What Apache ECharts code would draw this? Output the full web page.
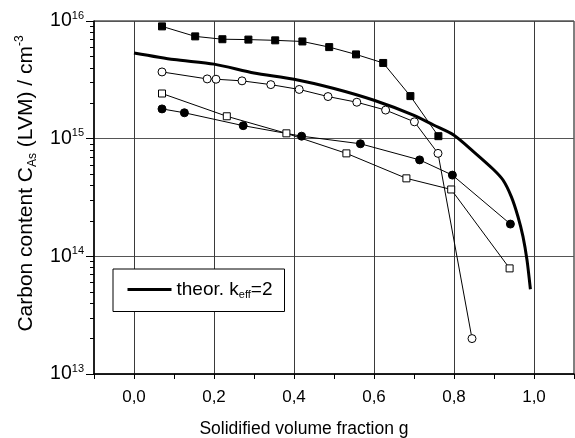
<!DOCTYPE html>
<html>
<head>
<meta charset="utf-8">
<script src="https://cdn.jsdelivr.net/npm/echarts@6/dist/echarts.min.js"></script>
<style>
html,body{margin:0;padding:0;background:#fff;}
#chart{width:575px;height:438px;}
</style>
</head>
<body>
<div id="chart"></div>
<script>
// ---- data ----
var filledSquaresX = [0.07, 0.153, 0.221, 0.286, 0.353, 0.421, 0.488, 0.555, 0.623, 0.691, 0.761];
var filledSquaresY = [9.0e15, 7.4e15, 7.0e15, 6.95e15, 6.85e15, 6.7e15, 6.0e15, 5.2e15, 4.4e15, 2.3e15, 1.05e15];

var openCirclesX = [0.07, 0.183, 0.205, 0.27, 0.342, 0.413, 0.485, 0.557, 0.629, 0.701, 0.76, 0.845];
var openCirclesY = [3.69e15, 3.22e15, 3.2e15, 3.1e15, 2.88e15, 2.62e15, 2.28e15, 2.04e15, 1.75e15, 1.39e15, 7.5e14, 2.0e13];

var openSquaresX = [0.07, 0.232, 0.381, 0.531, 0.681, 0.793, 0.939];
var openSquaresY = [2.42e15, 1.55e15, 1.11e15, 7.5e14, 4.6e14, 3.7e14, 7.9e13];

var filledCirclesX = [0.07, 0.126, 0.273, 0.419, 0.566, 0.714, 0.796, 0.941];
var filledCirclesY = [1.79e15, 1.66e15, 1.29e15, 1.05e15, 9.05e14, 6.6e14, 4.9e14, 1.88e14];

var theoryX = [0, 0.1, 0.2, 0.3, 0.4, 0.5, 0.6, 0.7, 0.75, 0.8, 0.85, 0.898, 0.9225, 0.9435, 0.96, 0.9725, 0.9825, 0.991];
var theoryY = [5.35e15, 4.7e15, 4.3e15, 3.62e15, 3.2e15, 2.67e15, 2.12e15, 1.58e15, 1.3e15, 1.07e15, 7.7e14, 5.5e14, 4.45e14, 3.2e14, 2.17e14, 1.47e14, 9.3e13, 5.25e13];

var xTickValues = [-0.1, 0, 0.1, 0.2, 0.3, 0.4, 0.5, 0.6, 0.7, 0.8, 0.9, 1.0, 1.1];
var xLabelValues = [0, 0.2, 0.4, 0.6, 0.8, 1.0];
var yMinorMantissas = [2, 3, 4, 5, 6, 7, 8, 9];
var yDecades = [13, 14, 15];

var legendName = 'theor';

// ---- build ----
function pairs(xs, ys) { return xs.map(function (x, i) { return [x, ys[i]]; }); }
var minorLogValues = [];
yDecades.forEach(function (d) { yMinorMantissas.forEach(function (m) { minorLogValues.push(d + Math.log10(m)); }); });

var FONT = '"Liberation Sans", Arial, sans-serif';
var GRID_W = 480;
var chart = echarts.init(document.getElementById('chart'));

function markerSeries(name, data, symbol, size, filled) {
  return {
    name: name, type: 'line', xAxisIndex: 0, yAxisIndex: 0,
    data: data, symbol: symbol, symbolSize: size, showSymbol: true,
    lineStyle: { color: '#000', width: 1 },
    itemStyle: { color: filled ? '#000' : '#fff', borderColor: '#000', borderWidth: 1 },
    emphasis: { disabled: true }, animation: false, z: 3
  };
}

var option = {
  animation: false,
  backgroundColor: '#fff',
  grid: { left: 94, top: 21, width: GRID_W, bottom: 64, show: true, borderColor: '#000', borderWidth: 1,
          backgroundColor: 'transparent', containLabel: false, outerBoundsMode: 'none' },
  legend: {
    data: [legendName],
    left: 113, top: 269,
    orient: 'horizontal',
    backgroundColor: '#fff',
    borderColor: '#000', borderWidth: 1,
    padding: [11, 12, 11, 13],
    itemWidth: 44, itemHeight: 20,
    selectedMode: false,
    itemStyle: { opacity: 0, color: 'rgba(0,0,0,0)', borderColor: 'rgba(0,0,0,0)', borderWidth: 0 },
    lineStyle: { color: '#000', width: 3, opacity: 1 },
    formatter: function () { return '{a|theor. k}{s|eff}{a|=2}'; },
    textStyle: {
      fontFamily: FONT, color: '#000', fontSize: 19,
      rich: {
        a: { fontFamily: FONT, fontSize: 19, color: '#000', lineHeight: 22 },
        s: { fontFamily: FONT, fontSize: 11, color: '#000', lineHeight: 12, verticalAlign: 'bottom' }
      }
    }
  },
  xAxis: [{
    type: 'value', min: -0.1, max: 1.1, position: 'bottom',
    axisLine: { show: true, onZero: false, lineStyle: { color: '#000', width: 1.5 } },
    axisTick: { show: true, inside: false, length: 5, customValues: xTickValues, lineStyle: { color: '#000', width: 1 } },
    axisLabel: {
      show: true, margin: 15, customValues: xLabelValues,
      fontFamily: FONT, fontSize: 17, color: '#000',
      formatter: function (v) { return v.toFixed(1).replace('.', ','); }
    },
    splitLine: { show: false },
    name: 'Solidified volume fraction g', nameLocation: 'middle', nameGap: 46,
    nameTextStyle: { fontFamily: FONT, fontSize: 17.5, color: '#000', padding: [0, 60, 0, 0] }
  }, {
    type: 'value', min: -0.1, max: 1.1, position: 'top', offset: 0,
    axisLine: { show: false, onZero: false },
    axisTick: { show: false, customValues: xLabelValues },
    axisLabel: { show: false },
    splitLine: { show: true, lineStyle: { color: '#3a3a3a', width: 1 } }
  }],
  yAxis: [{
    type: 'log', logBase: 10, min: 1e13, max: 1e16, position: 'left',
    axisLine: { show: true, onZero: false, lineStyle: { color: '#000', width: 1.5 } },
    axisTick: { show: true, inside: false, length: 8, lineStyle: { color: '#000', width: 1 } },
    minorTick: { show: false },
    axisLabel: {
      show: true, margin: 10, fontFamily: FONT, color: '#000',
      formatter: function (v) { return '{b|10}{s|' + Math.round(Math.log10(v)) + '}'; },
      rich: {
        b: { fontFamily: FONT, fontSize: 19.5, color: '#000', lineHeight: 22 },
        s: { fontFamily: FONT, fontSize: 11, color: '#000', lineHeight: 12, verticalAlign: 'top' }
      }
    },
    splitLine: { show: true, lineStyle: { color: '#555', width: 1 } },
    name: '{a|Carbon content C}{s|As}{a| (LVM) / cm}{p|-3}',
    nameLocation: 'middle', nameRotate: 90, nameGap: 55,
    nameTextStyle: {
      fontFamily: FONT, fontSize: 21, color: '#000', padding: [0, 0, 0, 28],
      rich: {
        a: { fontFamily: FONT, fontSize: 21, color: '#000', lineHeight: 25 },
        s: { fontFamily: FONT, fontSize: 12, color: '#000', lineHeight: 13, verticalAlign: 'bottom' },
        p: { fontFamily: FONT, fontSize: 12, color: '#000', lineHeight: 13, verticalAlign: 'top' }
      }
    }
  }, {
    // minor ticks of the log axis (in log10 space), placed on the left edge of the grid
    type: 'value', min: 13, max: 16, position: 'right', offset: -GRID_W,
    axisLine: { show: false, onZero: false },
    axisTick: { show: true, inside: true, length: 4, customValues: minorLogValues, lineStyle: { color: '#000', width: 1 } },
    axisLabel: { show: false },
    splitLine: { show: false }
  }],
  series: [
    {
      name: legendName, type: 'line', xAxisIndex: 0, yAxisIndex: 0,
      data: pairs(theoryX, theoryY), symbol: 'none', showSymbol: false, smooth: 0.25,
      lineStyle: { color: '#000', width: 3 }, itemStyle: { color: '#000' },
      emphasis: { disabled: true }, z: 2
    },
    markerSeries('filledSquares', pairs(filledSquaresX, filledSquaresY), 'rect', 7, true),
    markerSeries('openCircles', pairs(openCirclesX, openCirclesY), 'circle', 8, false),
    markerSeries('openSquares', pairs(openSquaresX, openSquaresY), 'rect', 7, false),
    markerSeries('filledCircles', pairs(filledCirclesX, filledCirclesY), 'circle', 8, true)
  ]
};
chart.setOption(option);
</script>
</body>
</html>
